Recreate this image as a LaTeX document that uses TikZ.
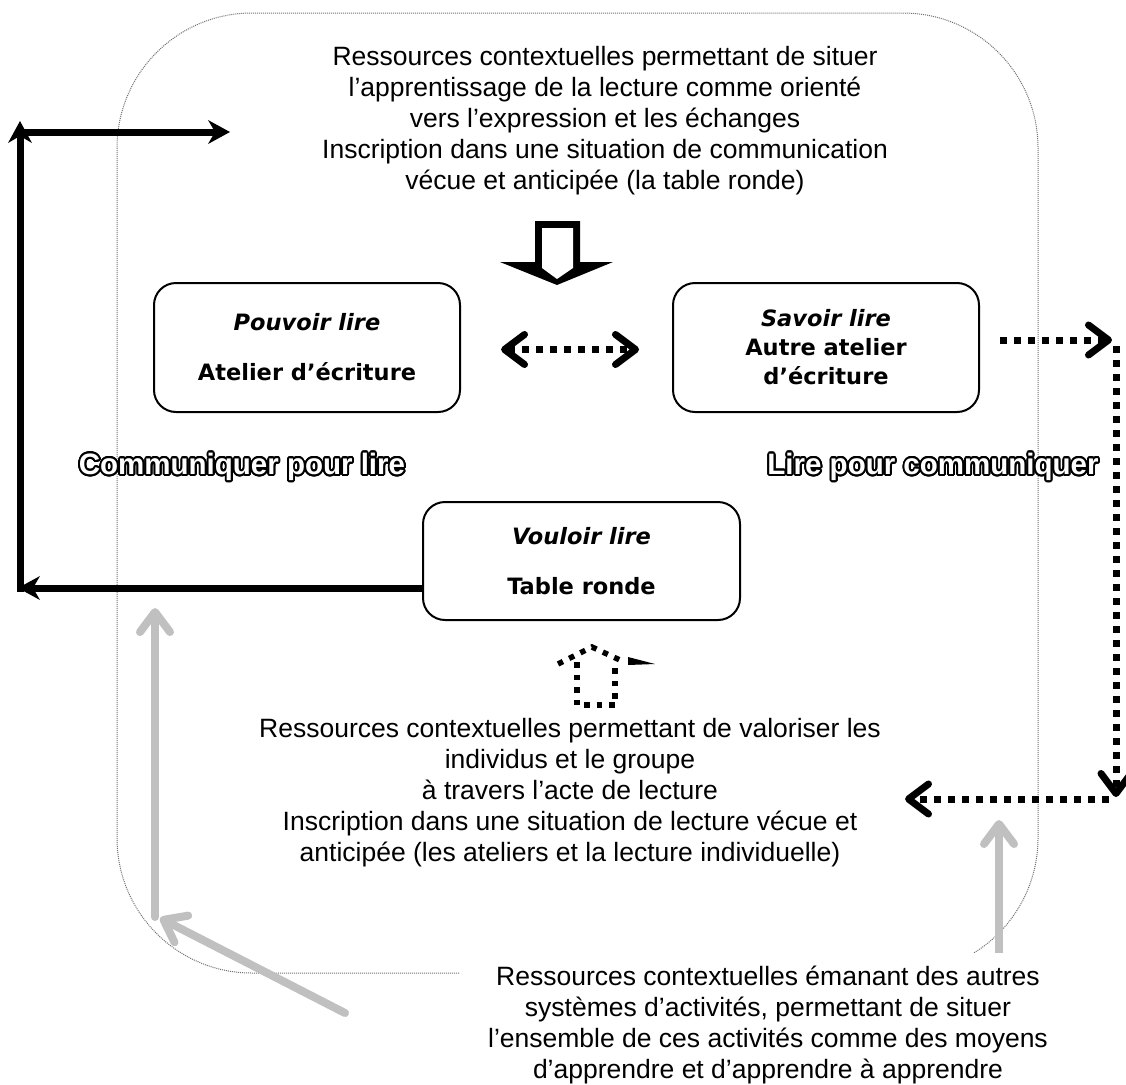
\documentclass[tikz,border=0pt]{standalone}
\usepackage{fontspec}
\setmainfont{Liberation Sans}
\newfontfamily\boxfont{DejaVu Sans}[BoldFont={DejaVu Sans Bold},BoldItalicFont={DejaVu Sans Bold Oblique},ItalicFont={DejaVu Sans Oblique}]
\usetikzlibrary{arrows.meta,calc}
\definecolor{arrowgrey}{HTML}{C0C0C0}
\definecolor{framegrey}{HTML}{707070}
\tikzset{
  txt/.style={font=\fontsize{26.5}{31}\selectfont, align=center, inner sep=0pt},
  box/.style={draw, line width=2pt, rounded corners=22pt, fill=white,
    font=\boxfont\bfseries\fontsize{22.5}{29}\selectfont, align=center, inner sep=0pt},
  blk/.style={line width=7pt, -{Stealth[length=22pt,width=24pt,inset=7pt,line width=0pt]}},
  dotarr/.style={line width=7pt, dash pattern=on 7pt off 7pt,
    -{Straight Barb[length=20pt,width=30pt,round]}},
  dotboth/.style={line width=7pt, dash pattern=on 7pt off 7pt,
    {Straight Barb[length=20pt,width=30pt,round]}-{Straight Barb[length=20pt,width=30pt,round]}},
  dotsmall/.style={line width=5.5pt, dash pattern=on 5.5pt off 7pt},
  gry/.style={arrowgrey, line width=8pt, line cap=round,
    -{Straight Barb[length=20pt,width=30pt,round]}},
  outl/.style={font=\bfseries\fontsize{29.5}{34}\selectfont, inner sep=0pt},
  framebox/.style={framegrey, line width=1pt, dash pattern=on 1pt off 1pt, rounded corners=135pt},
}
\newcommand\outlinedtext[3]{%
  \foreach \ang in {0,15,...,345}{\node[outl,text=black,shift={(\ang:1.9pt)}] at (#2) {#3};}
  \node[outl,text=white] (#1) at (#2) {#3};}
\begin{document}
\begin{tikzpicture}[x=1pt,y=-1pt]
\useasboundingbox (0,0) rectangle (1126,1084);
% outer dotted frame
\draw[framebox] (117,13) rectangle (1038,973);
\fill[white] (460,953) rectangle (1126,1084);

% texts
\node[txt] (top) at (605,121) {Ressources contextuelles permettant de situer\\
l’apprentissage de la lecture comme orienté\\
vers l’expression et les échanges\\
Inscription dans une situation de communication\\
vécue et anticipée (la table ronde)};

\node[txt] (mid) at (570,793) {Ressources contextuelles permettant de valoriser les\\
individus et le groupe\\
à travers l’acte de lecture\\
Inscription dans une situation de lecture vécue et\\
anticipée (les ateliers et la lecture individuelle)};

\node[txt] (bot) at (768,1025) {Ressources contextuelles émanant des autres\\
systèmes d’activités, permettant de situer\\
l’ensemble de ces activités comme des moyens\\
d’apprendre et d’apprendre à apprendre};

% boxes
\node[box, minimum width=306pt, minimum height=129pt] (pouvoir) at (307,347.5)
  {{\itshape Pouvoir lire}\\[21pt]Atelier d’écriture};
\node[box, minimum width=306pt, minimum height=129pt] (savoir) at (826,347.5)
  {{\itshape Savoir lire}\\Autre atelier\\d’écriture};
\node[box, minimum width=317pt, minimum height=118pt] (vouloir) at (581.5,561)
  {{\itshape Vouloir lire}\\[21pt]Table ronde};

% outlined labels
\outlinedtext{cpl}{242,467}{Communiquer pour lire}
\outlinedtext{lpc}{933,467}{Lire pour communiquer}

% hollow down arrow
\fill[black] (535,221) -- (580,221) -- (580,262) -- (613,262) -- (557,285) -- (500,262) -- (535,262) -- cycle;
\fill[white] (542,228) -- (573,228) -- (573,268) -- (557,279) -- (542,268) -- cycle;

% black feedback arrows
\coordinate (bl) at (18,588);
\coordinate (vt) at (20,121);
\coordinate (hl) at (17,132);
\coordinate (hr) at (230,132);
\draw[blk] (vouloir.west |- bl) -- (bl);
\draw[line width=7pt] (20,591.5) -- (20,400);
\draw[blk] (20,592) -- (vt);
\draw[blk] (hl) -- (hr);

% dotted arrows
\draw[dotboth] ([xshift=40pt,yshift=-2pt]pouvoir.east) -- ([xshift=-33pt,yshift=-2pt]savoir.west);
\coordinate (r0) at (1000,340);
\coordinate (r1) at (1112,340);
\coordinate (r2) at (1116,346);
\coordinate (r3) at (1116,797);
\coordinate (r4) at (1109,799);
\coordinate (r5) at (905,799);
\draw[dotarr] (savoir.east -| r0) ++(0,-7.5) -- (r1);
\draw[dotarr] (r2) -- (r3);
\draw[dotarr] (r4) -- (r5);

% small dotted up arrow
\draw[dotsmall] (558,664) -- (592,647) -- (622,661);
\draw[dotsmall] (577,662) -- (577,705) -- (615,705) -- (615,662);
\fill (628,657) -- (655,664) -- (628,665) -- cycle;

% grey arrows
\coordinate (g1) at (155,917);
\coordinate (g2) at (155,608);
\coordinate (g3) at (345,1013);
\coordinate (g4) at (999,953);
\coordinate (g5) at (999,820);
\coordinate (g6) at (160,918);
\draw[gry] (g1) -- (g2);
\draw[gry] (g3) -- (g6);
\draw[gry, line cap=butt] (g4) -- (g5);
\end{tikzpicture}
\end{document}
